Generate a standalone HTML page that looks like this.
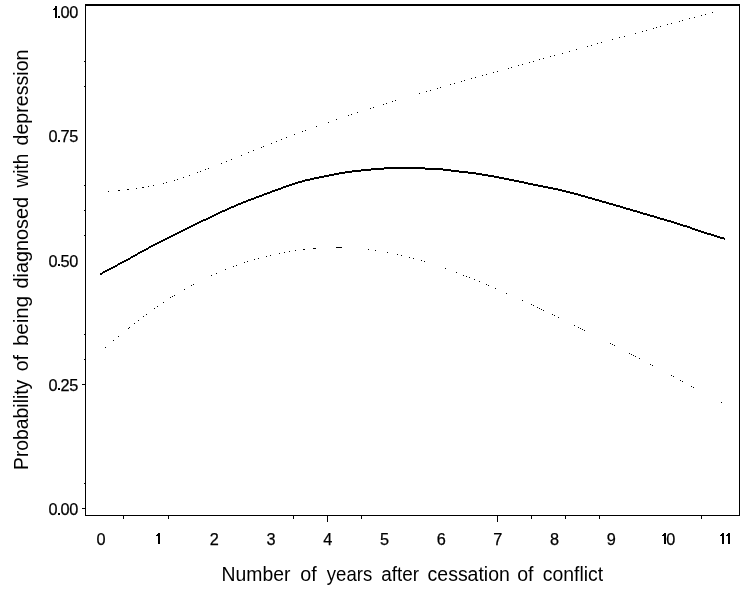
<!DOCTYPE html>
<html><head><meta charset="utf-8"><style>
html,body{margin:0;padding:0;background:#fff;width:740px;height:592px;overflow:hidden}
svg{display:block;will-change:transform}
</style></head><body><svg width="740" height="592" viewBox="0 0 740 592" font-family='"Liberation Sans", sans-serif'><rect x="0" y="0" width="740" height="592" fill="#fff"/><g shape-rendering="crispEdges" fill="#000"><rect x="85" y="4" width="655" height="2"/><rect x="85" y="4" width="1" height="512"/><rect x="739" y="4" width="1" height="512"/><rect x="85" y="515" width="655" height="1"/><rect x="84" y="61" width="1" height="1"/><rect x="84" y="86" width="1" height="1"/><rect x="84" y="185" width="1" height="1"/><rect x="84" y="210" width="1" height="1"/><rect x="84" y="235" width="1" height="1"/><rect x="84" y="334" width="1" height="1"/><rect x="84" y="359" width="1" height="1"/><rect x="84" y="483" width="1" height="1"/><rect x="82" y="384" width="3" height="1"/><rect x="82" y="508" width="3" height="1"/><rect x="123" y="516" width="1" height="3"/><rect x="168" y="516" width="1" height="3"/><rect x="293" y="516" width="1" height="3"/><rect x="361" y="516" width="1" height="3"/><rect x="531" y="516" width="1" height="3"/><rect x="565" y="516" width="1" height="3"/><rect x="599" y="516" width="1" height="3"/><rect x="701" y="516" width="1" height="3"/><rect x="327" y="516" width="1" height="6"/><rect x="497" y="516" width="1" height="6"/><rect x="108" y="191" width="1" height="1"/><rect x="118" y="190" width="1" height="1"/><rect x="119" y="190" width="1" height="1"/><rect x="127" y="189" width="1" height="1"/><rect x="128" y="189" width="1" height="1"/><rect x="136" y="188" width="1" height="1"/><rect x="142" y="187" width="1" height="1"/><rect x="143" y="187" width="1" height="1"/><rect x="148" y="186" width="1" height="1"/><rect x="153" y="185" width="1" height="1"/><rect x="163" y="183" width="1" height="1"/><rect x="166" y="182" width="1" height="1"/><rect x="174" y="180" width="1" height="1"/><rect x="177" y="179" width="1" height="1"/><rect x="183" y="177" width="1" height="1"/><rect x="189" y="175" width="1" height="1"/><rect x="197" y="172" width="1" height="1"/><rect x="200" y="171" width="1" height="1"/><rect x="205" y="169" width="1" height="1"/><rect x="208" y="168" width="1" height="1"/><rect x="221" y="163" width="1" height="1"/><rect x="226" y="161" width="1" height="1"/><rect x="231" y="159" width="1" height="1"/><rect x="241" y="155" width="1" height="1"/><rect x="248" y="152" width="1" height="1"/><rect x="253" y="150" width="1" height="1"/><rect x="261" y="147" width="1" height="1"/><rect x="263" y="146" width="1" height="1"/><rect x="271" y="143" width="1" height="1"/><rect x="276" y="141" width="1" height="1"/><rect x="281" y="139" width="1" height="1"/><rect x="286" y="137" width="1" height="1"/><rect x="294" y="134" width="1" height="1"/><rect x="302" y="131" width="1" height="1"/><rect x="305" y="130" width="1" height="1"/><rect x="316" y="126" width="1" height="1"/><rect x="328" y="122" width="1" height="1"/><rect x="336" y="119" width="1" height="1"/><rect x="348" y="115" width="1" height="1"/><rect x="351" y="114" width="1" height="1"/><rect x="357" y="112" width="1" height="1"/><rect x="370" y="108" width="1" height="1"/><rect x="373" y="107" width="1" height="1"/><rect x="383" y="104" width="1" height="1"/><rect x="386" y="103" width="1" height="1"/><rect x="392" y="101" width="1" height="1"/><rect x="395" y="100" width="1" height="1"/><rect x="419" y="93" width="1" height="1"/><rect x="426" y="91" width="1" height="1"/><rect x="430" y="90" width="1" height="1"/><rect x="437" y="88" width="1" height="1"/><rect x="440" y="87" width="1" height="1"/><rect x="450" y="84" width="1" height="1"/><rect x="454" y="83" width="1" height="1"/><rect x="461" y="81" width="1" height="1"/><rect x="464" y="80" width="1" height="1"/><rect x="471" y="78" width="1" height="1"/><rect x="475" y="77" width="1" height="1"/><rect x="482" y="75" width="1" height="1"/><rect x="486" y="74" width="1" height="1"/><rect x="493" y="72" width="1" height="1"/><rect x="497" y="71" width="1" height="1"/><rect x="508" y="68" width="1" height="1"/><rect x="511" y="67" width="1" height="1"/><rect x="518" y="65" width="1" height="1"/><rect x="522" y="64" width="1" height="1"/><rect x="529" y="62" width="1" height="1"/><rect x="533" y="61" width="1" height="1"/><rect x="539" y="59" width="1" height="1"/><rect x="543" y="58" width="1" height="1"/><rect x="550" y="56" width="1" height="1"/><rect x="554" y="55" width="1" height="1"/><rect x="562" y="53" width="1" height="1"/><rect x="569" y="51" width="1" height="1"/><rect x="576" y="49" width="1" height="1"/><rect x="587" y="46" width="1" height="1"/><rect x="591" y="45" width="1" height="1"/><rect x="597" y="43" width="1" height="1"/><rect x="601" y="42" width="1" height="1"/><rect x="612" y="39" width="1" height="1"/><rect x="619" y="37" width="1" height="1"/><rect x="624" y="36" width="1" height="1"/><rect x="635" y="33" width="1" height="1"/><rect x="642" y="31" width="1" height="1"/><rect x="646" y="30" width="1" height="1"/><rect x="653" y="28" width="1" height="1"/><rect x="656" y="27" width="1" height="1"/><rect x="660" y="26" width="1" height="1"/><rect x="667" y="24" width="1" height="1"/><rect x="671" y="23" width="1" height="1"/><rect x="679" y="21" width="1" height="1"/><rect x="682" y="20" width="1" height="1"/><rect x="689" y="18" width="1" height="1"/><rect x="694" y="17" width="1" height="1"/><rect x="701" y="15" width="1" height="1"/><rect x="705" y="14" width="1" height="1"/><rect x="712" y="12" width="1" height="1"/><rect x="105" y="347" width="1" height="1"/><rect x="113" y="340" width="1" height="1"/><rect x="118" y="336" width="1" height="1"/><rect x="128" y="328" width="1" height="1"/><rect x="129" y="327" width="1" height="1"/><rect x="134" y="323" width="1" height="1"/><rect x="138" y="320" width="1" height="1"/><rect x="143" y="316" width="1" height="1"/><rect x="146" y="314" width="1" height="1"/><rect x="154" y="308" width="1" height="1"/><rect x="157" y="306" width="1" height="1"/><rect x="163" y="302" width="1" height="1"/><rect x="170" y="297" width="1" height="1"/><rect x="172" y="296" width="1" height="1"/><rect x="174" y="295" width="1" height="1"/><rect x="184" y="289" width="1" height="1"/><rect x="191" y="285" width="1" height="1"/><rect x="193" y="284" width="1" height="1"/><rect x="211" y="275" width="1" height="1"/><rect x="216" y="273" width="1" height="1"/><rect x="225" y="269" width="1" height="1"/><rect x="233" y="266" width="1" height="1"/><rect x="236" y="265" width="1" height="1"/><rect x="244" y="262" width="1" height="1"/><rect x="247" y="261" width="1" height="1"/><rect x="254" y="259" width="1" height="1"/><rect x="258" y="258" width="1" height="1"/><rect x="266" y="256" width="1" height="1"/><rect x="270" y="255" width="1" height="1"/><rect x="279" y="253" width="1" height="1"/><rect x="284" y="252" width="1" height="1"/><rect x="289" y="251" width="1" height="1"/><rect x="295" y="250" width="1" height="1"/><rect x="303" y="249" width="1" height="1"/><rect x="304" y="249" width="1" height="1"/><rect x="313" y="248" width="1" height="1"/><rect x="314" y="248" width="1" height="1"/><rect x="315" y="248" width="1" height="1"/><rect x="336" y="247" width="1" height="1"/><rect x="337" y="247" width="1" height="1"/><rect x="338" y="247" width="1" height="1"/><rect x="339" y="247" width="1" height="1"/><rect x="340" y="247" width="1" height="1"/><rect x="341" y="247" width="1" height="1"/><rect x="368" y="249" width="1" height="1"/><rect x="375" y="250" width="1" height="1"/><rect x="387" y="252" width="1" height="1"/><rect x="397" y="254" width="1" height="1"/><rect x="401" y="255" width="1" height="1"/><rect x="409" y="257" width="1" height="1"/><rect x="413" y="258" width="1" height="1"/><rect x="421" y="260" width="1" height="1"/><rect x="424" y="261" width="1" height="1"/><rect x="445" y="268" width="1" height="1"/><rect x="456" y="272" width="1" height="1"/><rect x="463" y="275" width="1" height="1"/><rect x="466" y="276" width="1" height="1"/><rect x="469" y="277" width="1" height="1"/><rect x="474" y="279" width="1" height="1"/><rect x="479" y="281" width="1" height="1"/><rect x="486" y="284" width="1" height="1"/><rect x="488" y="285" width="1" height="1"/><rect x="495" y="288" width="1" height="1"/><rect x="506" y="293" width="1" height="1"/><rect x="522" y="300" width="1" height="1"/><rect x="531" y="304" width="1" height="1"/><rect x="533" y="305" width="1" height="1"/><rect x="537" y="307" width="1" height="1"/><rect x="539" y="308" width="1" height="1"/><rect x="541" y="309" width="1" height="1"/><rect x="543" y="310" width="1" height="1"/><rect x="552" y="314" width="1" height="1"/><rect x="554" y="315" width="1" height="1"/><rect x="558" y="317" width="1" height="1"/><rect x="574" y="325" width="1" height="1"/><rect x="578" y="327" width="1" height="1"/><rect x="580" y="328" width="1" height="1"/><rect x="582" y="329" width="1" height="1"/><rect x="584" y="330" width="1" height="1"/><rect x="610" y="343" width="1" height="1"/><rect x="612" y="344" width="1" height="1"/><rect x="614" y="345" width="1" height="1"/><rect x="629" y="353" width="1" height="1"/><rect x="631" y="354" width="1" height="1"/><rect x="633" y="355" width="1" height="1"/><rect x="635" y="356" width="1" height="1"/><rect x="639" y="358" width="1" height="1"/><rect x="650" y="364" width="1" height="1"/><rect x="652" y="365" width="1" height="1"/><rect x="671" y="375" width="1" height="1"/><rect x="673" y="376" width="1" height="1"/><rect x="680" y="380" width="1" height="1"/><rect x="682" y="381" width="1" height="1"/><rect x="691" y="386" width="1" height="1"/><rect x="693" y="387" width="1" height="1"/><rect x="721" y="402" width="1" height="1"/><rect x="55" y="6" width="2" height="12"/><rect x="53" y="9" width="2" height="1"/><rect x="54" y="8" width="1" height="1"/><rect x="58" y="16" width="2" height="2"/><rect x="58" y="140" width="2" height="2"/><rect x="58" y="264" width="2" height="2"/><rect x="58" y="388" width="2" height="2"/><rect x="58" y="513" width="2" height="2"/><rect x="158" y="533" width="2" height="11"/><rect x="156" y="535" width="2" height="1"/><rect x="157" y="534" width="1" height="1"/><rect x="664" y="533" width="2" height="11"/><rect x="662" y="535" width="2" height="1"/><rect x="663" y="534" width="1" height="1"/><rect x="722" y="533" width="2" height="11"/><rect x="720" y="535" width="2" height="1"/><rect x="721" y="534" width="1" height="1"/><rect x="728" y="533" width="2" height="11"/><rect x="726" y="535" width="2" height="1"/><rect x="727" y="534" width="1" height="1"/><rect x="100" y="273" width="1" height="2"/><rect x="101" y="273" width="1" height="2"/><rect x="102" y="272" width="1" height="2"/><rect x="103" y="271" width="1" height="2"/><rect x="104" y="271" width="1" height="2"/><rect x="105" y="270" width="1" height="2"/><rect x="106" y="270" width="1" height="2"/><rect x="107" y="269" width="1" height="2"/><rect x="108" y="269" width="1" height="2"/><rect x="109" y="268" width="1" height="2"/><rect x="110" y="268" width="1" height="2"/><rect x="111" y="267" width="1" height="2"/><rect x="112" y="267" width="1" height="2"/><rect x="113" y="266" width="1" height="2"/><rect x="114" y="266" width="1" height="2"/><rect x="115" y="265" width="1" height="2"/><rect x="116" y="265" width="1" height="2"/><rect x="117" y="264" width="1" height="2"/><rect x="118" y="263" width="1" height="2"/><rect x="119" y="263" width="1" height="2"/><rect x="120" y="262" width="1" height="2"/><rect x="121" y="262" width="1" height="2"/><rect x="122" y="261" width="1" height="2"/><rect x="123" y="261" width="1" height="2"/><rect x="124" y="260" width="1" height="2"/><rect x="125" y="260" width="1" height="2"/><rect x="126" y="259" width="1" height="2"/><rect x="127" y="259" width="1" height="2"/><rect x="128" y="258" width="1" height="2"/><rect x="129" y="258" width="1" height="2"/><rect x="130" y="257" width="1" height="2"/><rect x="131" y="256" width="1" height="2"/><rect x="132" y="256" width="1" height="2"/><rect x="133" y="255" width="1" height="2"/><rect x="134" y="255" width="1" height="2"/><rect x="135" y="254" width="1" height="2"/><rect x="136" y="254" width="1" height="2"/><rect x="137" y="253" width="1" height="2"/><rect x="138" y="252" width="1" height="2"/><rect x="139" y="252" width="1" height="2"/><rect x="140" y="251" width="1" height="2"/><rect x="141" y="251" width="1" height="2"/><rect x="142" y="250" width="1" height="2"/><rect x="143" y="250" width="1" height="2"/><rect x="144" y="249" width="1" height="2"/><rect x="145" y="249" width="1" height="2"/><rect x="146" y="248" width="1" height="2"/><rect x="147" y="248" width="1" height="2"/><rect x="148" y="247" width="1" height="2"/><rect x="149" y="246" width="1" height="2"/><rect x="150" y="246" width="1" height="2"/><rect x="151" y="245" width="1" height="2"/><rect x="152" y="245" width="1" height="2"/><rect x="153" y="244" width="1" height="2"/><rect x="154" y="244" width="1" height="2"/><rect x="155" y="243" width="1" height="2"/><rect x="156" y="243" width="1" height="2"/><rect x="157" y="242" width="1" height="2"/><rect x="158" y="242" width="1" height="2"/><rect x="159" y="241" width="1" height="2"/><rect x="160" y="241" width="1" height="2"/><rect x="161" y="240" width="1" height="2"/><rect x="162" y="240" width="1" height="2"/><rect x="163" y="239" width="1" height="2"/><rect x="164" y="239" width="1" height="2"/><rect x="165" y="238" width="1" height="2"/><rect x="166" y="238" width="1" height="2"/><rect x="167" y="237" width="1" height="2"/><rect x="168" y="237" width="1" height="2"/><rect x="169" y="236" width="1" height="2"/><rect x="170" y="236" width="1" height="2"/><rect x="171" y="235" width="1" height="2"/><rect x="172" y="235" width="1" height="2"/><rect x="173" y="234" width="1" height="2"/><rect x="174" y="234" width="1" height="2"/><rect x="175" y="233" width="1" height="2"/><rect x="176" y="233" width="1" height="2"/><rect x="177" y="232" width="1" height="2"/><rect x="178" y="232" width="1" height="2"/><rect x="179" y="231" width="1" height="2"/><rect x="180" y="231" width="1" height="2"/><rect x="181" y="230" width="1" height="2"/><rect x="182" y="230" width="1" height="2"/><rect x="183" y="229" width="1" height="2"/><rect x="184" y="229" width="1" height="2"/><rect x="185" y="228" width="1" height="2"/><rect x="186" y="228" width="1" height="2"/><rect x="187" y="227" width="1" height="2"/><rect x="188" y="227" width="1" height="2"/><rect x="189" y="226" width="1" height="2"/><rect x="190" y="226" width="1" height="2"/><rect x="191" y="225" width="1" height="2"/><rect x="192" y="225" width="1" height="2"/><rect x="193" y="224" width="1" height="2"/><rect x="194" y="224" width="1" height="2"/><rect x="195" y="223" width="1" height="2"/><rect x="196" y="223" width="1" height="2"/><rect x="197" y="222" width="1" height="2"/><rect x="198" y="222" width="1" height="2"/><rect x="199" y="221" width="1" height="2"/><rect x="200" y="221" width="1" height="2"/><rect x="201" y="220" width="1" height="2"/><rect x="202" y="220" width="1" height="2"/><rect x="203" y="219" width="1" height="2"/><rect x="204" y="219" width="1" height="2"/><rect x="205" y="219" width="1" height="2"/><rect x="206" y="218" width="1" height="2"/><rect x="207" y="218" width="1" height="2"/><rect x="208" y="217" width="1" height="2"/><rect x="209" y="217" width="1" height="2"/><rect x="210" y="216" width="1" height="2"/><rect x="211" y="216" width="1" height="2"/><rect x="212" y="215" width="1" height="2"/><rect x="213" y="215" width="1" height="2"/><rect x="214" y="214" width="1" height="2"/><rect x="215" y="214" width="1" height="2"/><rect x="216" y="213" width="1" height="2"/><rect x="217" y="213" width="1" height="2"/><rect x="218" y="212" width="1" height="2"/><rect x="219" y="212" width="1" height="2"/><rect x="220" y="211" width="1" height="2"/><rect x="221" y="211" width="1" height="2"/><rect x="222" y="210" width="1" height="2"/><rect x="223" y="210" width="1" height="2"/><rect x="224" y="210" width="1" height="2"/><rect x="225" y="209" width="1" height="2"/><rect x="226" y="209" width="1" height="2"/><rect x="227" y="208" width="1" height="2"/><rect x="228" y="208" width="1" height="2"/><rect x="229" y="207" width="1" height="2"/><rect x="230" y="207" width="1" height="2"/><rect x="231" y="206" width="1" height="2"/><rect x="232" y="206" width="1" height="2"/><rect x="233" y="206" width="1" height="2"/><rect x="234" y="205" width="1" height="2"/><rect x="235" y="205" width="1" height="2"/><rect x="236" y="204" width="1" height="2"/><rect x="237" y="204" width="1" height="2"/><rect x="238" y="203" width="1" height="2"/><rect x="239" y="203" width="1" height="2"/><rect x="240" y="203" width="1" height="2"/><rect x="241" y="202" width="1" height="2"/><rect x="242" y="202" width="1" height="2"/><rect x="243" y="201" width="1" height="2"/><rect x="244" y="201" width="1" height="2"/><rect x="245" y="201" width="1" height="2"/><rect x="246" y="200" width="1" height="2"/><rect x="247" y="200" width="1" height="2"/><rect x="248" y="199" width="1" height="2"/><rect x="249" y="199" width="1" height="2"/><rect x="250" y="199" width="1" height="2"/><rect x="251" y="198" width="1" height="2"/><rect x="252" y="198" width="1" height="2"/><rect x="253" y="198" width="1" height="2"/><rect x="254" y="197" width="1" height="2"/><rect x="255" y="197" width="1" height="2"/><rect x="256" y="196" width="1" height="2"/><rect x="257" y="196" width="1" height="2"/><rect x="258" y="196" width="1" height="2"/><rect x="259" y="195" width="1" height="2"/><rect x="260" y="195" width="1" height="2"/><rect x="261" y="195" width="1" height="2"/><rect x="262" y="194" width="1" height="2"/><rect x="263" y="194" width="1" height="2"/><rect x="264" y="193" width="1" height="2"/><rect x="265" y="193" width="1" height="2"/><rect x="266" y="193" width="1" height="2"/><rect x="267" y="192" width="1" height="2"/><rect x="268" y="192" width="1" height="2"/><rect x="269" y="192" width="1" height="2"/><rect x="270" y="191" width="1" height="2"/><rect x="271" y="191" width="1" height="2"/><rect x="272" y="190" width="1" height="2"/><rect x="273" y="190" width="1" height="2"/><rect x="274" y="190" width="1" height="2"/><rect x="275" y="189" width="1" height="2"/><rect x="276" y="189" width="1" height="2"/><rect x="277" y="189" width="1" height="2"/><rect x="278" y="188" width="1" height="2"/><rect x="279" y="188" width="1" height="2"/><rect x="280" y="188" width="1" height="2"/><rect x="281" y="187" width="1" height="2"/><rect x="282" y="187" width="1" height="2"/><rect x="283" y="186" width="1" height="2"/><rect x="284" y="186" width="1" height="2"/><rect x="285" y="186" width="1" height="2"/><rect x="286" y="185" width="1" height="2"/><rect x="287" y="185" width="1" height="2"/><rect x="288" y="185" width="1" height="2"/><rect x="289" y="184" width="1" height="2"/><rect x="290" y="184" width="1" height="2"/><rect x="291" y="184" width="1" height="2"/><rect x="292" y="183" width="1" height="2"/><rect x="293" y="183" width="1" height="2"/><rect x="294" y="183" width="1" height="2"/><rect x="295" y="182" width="1" height="2"/><rect x="296" y="182" width="1" height="2"/><rect x="297" y="182" width="1" height="2"/><rect x="298" y="181" width="1" height="2"/><rect x="299" y="181" width="1" height="2"/><rect x="300" y="181" width="1" height="2"/><rect x="301" y="181" width="1" height="2"/><rect x="302" y="180" width="1" height="2"/><rect x="303" y="180" width="1" height="2"/><rect x="304" y="180" width="1" height="2"/><rect x="305" y="179" width="1" height="2"/><rect x="306" y="179" width="1" height="2"/><rect x="307" y="179" width="1" height="2"/><rect x="308" y="179" width="1" height="2"/><rect x="309" y="179" width="1" height="2"/><rect x="310" y="178" width="1" height="2"/><rect x="311" y="178" width="1" height="2"/><rect x="312" y="178" width="1" height="2"/><rect x="313" y="178" width="1" height="2"/><rect x="314" y="177" width="1" height="2"/><rect x="315" y="177" width="1" height="2"/><rect x="316" y="177" width="1" height="2"/><rect x="317" y="177" width="1" height="2"/><rect x="318" y="177" width="1" height="2"/><rect x="319" y="176" width="1" height="2"/><rect x="320" y="176" width="1" height="2"/><rect x="321" y="176" width="1" height="2"/><rect x="322" y="176" width="1" height="2"/><rect x="323" y="176" width="1" height="2"/><rect x="324" y="175" width="1" height="2"/><rect x="325" y="175" width="1" height="2"/><rect x="326" y="175" width="1" height="2"/><rect x="327" y="175" width="1" height="2"/><rect x="328" y="175" width="1" height="2"/><rect x="329" y="174" width="1" height="2"/><rect x="330" y="174" width="1" height="2"/><rect x="331" y="174" width="1" height="2"/><rect x="332" y="174" width="1" height="2"/><rect x="333" y="174" width="1" height="2"/><rect x="334" y="173" width="1" height="2"/><rect x="335" y="173" width="1" height="2"/><rect x="336" y="173" width="1" height="2"/><rect x="337" y="173" width="1" height="2"/><rect x="338" y="173" width="1" height="2"/><rect x="339" y="172" width="1" height="2"/><rect x="340" y="172" width="1" height="2"/><rect x="341" y="172" width="1" height="2"/><rect x="342" y="172" width="1" height="2"/><rect x="343" y="172" width="1" height="2"/><rect x="344" y="172" width="1" height="2"/><rect x="345" y="171" width="1" height="2"/><rect x="346" y="171" width="1" height="2"/><rect x="347" y="171" width="1" height="2"/><rect x="348" y="171" width="1" height="2"/><rect x="349" y="171" width="1" height="2"/><rect x="350" y="171" width="1" height="2"/><rect x="351" y="171" width="1" height="2"/><rect x="352" y="170" width="1" height="2"/><rect x="353" y="170" width="1" height="2"/><rect x="354" y="170" width="1" height="2"/><rect x="355" y="170" width="1" height="2"/><rect x="356" y="170" width="1" height="2"/><rect x="357" y="170" width="1" height="2"/><rect x="358" y="170" width="1" height="2"/><rect x="359" y="170" width="1" height="2"/><rect x="360" y="170" width="1" height="2"/><rect x="361" y="169" width="1" height="2"/><rect x="362" y="169" width="1" height="2"/><rect x="363" y="169" width="1" height="2"/><rect x="364" y="169" width="1" height="2"/><rect x="365" y="169" width="1" height="2"/><rect x="366" y="169" width="1" height="2"/><rect x="367" y="169" width="1" height="2"/><rect x="368" y="169" width="1" height="2"/><rect x="369" y="169" width="1" height="2"/><rect x="370" y="169" width="1" height="2"/><rect x="371" y="168" width="1" height="2"/><rect x="372" y="168" width="1" height="2"/><rect x="373" y="168" width="1" height="2"/><rect x="374" y="168" width="1" height="2"/><rect x="375" y="168" width="1" height="2"/><rect x="376" y="168" width="1" height="2"/><rect x="377" y="168" width="1" height="2"/><rect x="378" y="168" width="1" height="2"/><rect x="379" y="168" width="1" height="2"/><rect x="380" y="168" width="1" height="2"/><rect x="381" y="168" width="1" height="2"/><rect x="382" y="168" width="1" height="2"/><rect x="383" y="168" width="1" height="2"/><rect x="384" y="167" width="1" height="2"/><rect x="385" y="167" width="1" height="2"/><rect x="386" y="167" width="1" height="2"/><rect x="387" y="167" width="1" height="2"/><rect x="388" y="167" width="1" height="2"/><rect x="389" y="167" width="1" height="2"/><rect x="390" y="167" width="1" height="2"/><rect x="391" y="167" width="1" height="2"/><rect x="392" y="167" width="1" height="2"/><rect x="393" y="167" width="1" height="2"/><rect x="394" y="167" width="1" height="2"/><rect x="395" y="167" width="1" height="2"/><rect x="396" y="167" width="1" height="2"/><rect x="397" y="167" width="1" height="2"/><rect x="398" y="167" width="1" height="2"/><rect x="399" y="167" width="1" height="2"/><rect x="400" y="167" width="1" height="2"/><rect x="401" y="167" width="1" height="2"/><rect x="402" y="167" width="1" height="2"/><rect x="403" y="167" width="1" height="2"/><rect x="404" y="167" width="1" height="2"/><rect x="405" y="167" width="1" height="2"/><rect x="406" y="167" width="1" height="2"/><rect x="407" y="167" width="1" height="2"/><rect x="408" y="167" width="1" height="2"/><rect x="409" y="167" width="1" height="2"/><rect x="410" y="167" width="1" height="2"/><rect x="411" y="167" width="1" height="2"/><rect x="412" y="167" width="1" height="2"/><rect x="413" y="167" width="1" height="2"/><rect x="414" y="167" width="1" height="2"/><rect x="415" y="167" width="1" height="2"/><rect x="416" y="167" width="1" height="2"/><rect x="417" y="167" width="1" height="2"/><rect x="418" y="167" width="1" height="2"/><rect x="419" y="167" width="1" height="2"/><rect x="420" y="167" width="1" height="2"/><rect x="421" y="167" width="1" height="2"/><rect x="422" y="167" width="1" height="2"/><rect x="423" y="167" width="1" height="2"/><rect x="424" y="167" width="1" height="2"/><rect x="425" y="168" width="1" height="2"/><rect x="426" y="168" width="1" height="2"/><rect x="427" y="168" width="1" height="2"/><rect x="428" y="168" width="1" height="2"/><rect x="429" y="168" width="1" height="2"/><rect x="430" y="168" width="1" height="2"/><rect x="431" y="168" width="1" height="2"/><rect x="432" y="168" width="1" height="2"/><rect x="433" y="168" width="1" height="2"/><rect x="434" y="168" width="1" height="2"/><rect x="435" y="168" width="1" height="2"/><rect x="436" y="168" width="1" height="2"/><rect x="437" y="168" width="1" height="2"/><rect x="438" y="168" width="1" height="2"/><rect x="439" y="168" width="1" height="2"/><rect x="440" y="168" width="1" height="2"/><rect x="441" y="168" width="1" height="2"/><rect x="442" y="168" width="1" height="2"/><rect x="443" y="169" width="1" height="2"/><rect x="444" y="169" width="1" height="2"/><rect x="445" y="169" width="1" height="2"/><rect x="446" y="169" width="1" height="2"/><rect x="447" y="169" width="1" height="2"/><rect x="448" y="169" width="1" height="2"/><rect x="449" y="169" width="1" height="2"/><rect x="450" y="169" width="1" height="2"/><rect x="451" y="170" width="1" height="2"/><rect x="452" y="170" width="1" height="2"/><rect x="453" y="170" width="1" height="2"/><rect x="454" y="170" width="1" height="2"/><rect x="455" y="170" width="1" height="2"/><rect x="456" y="170" width="1" height="2"/><rect x="457" y="170" width="1" height="2"/><rect x="458" y="170" width="1" height="2"/><rect x="459" y="171" width="1" height="2"/><rect x="460" y="171" width="1" height="2"/><rect x="461" y="171" width="1" height="2"/><rect x="462" y="171" width="1" height="2"/><rect x="463" y="171" width="1" height="2"/><rect x="464" y="171" width="1" height="2"/><rect x="465" y="171" width="1" height="2"/><rect x="466" y="171" width="1" height="2"/><rect x="467" y="171" width="1" height="2"/><rect x="468" y="172" width="1" height="2"/><rect x="469" y="172" width="1" height="2"/><rect x="470" y="172" width="1" height="2"/><rect x="471" y="172" width="1" height="2"/><rect x="472" y="172" width="1" height="2"/><rect x="473" y="172" width="1" height="2"/><rect x="474" y="172" width="1" height="2"/><rect x="475" y="172" width="1" height="2"/><rect x="476" y="173" width="1" height="2"/><rect x="477" y="173" width="1" height="2"/><rect x="478" y="173" width="1" height="2"/><rect x="479" y="173" width="1" height="2"/><rect x="480" y="173" width="1" height="2"/><rect x="481" y="173" width="1" height="2"/><rect x="482" y="174" width="1" height="2"/><rect x="483" y="174" width="1" height="2"/><rect x="484" y="174" width="1" height="2"/><rect x="485" y="174" width="1" height="2"/><rect x="486" y="174" width="1" height="2"/><rect x="487" y="174" width="1" height="2"/><rect x="488" y="175" width="1" height="2"/><rect x="489" y="175" width="1" height="2"/><rect x="490" y="175" width="1" height="2"/><rect x="491" y="175" width="1" height="2"/><rect x="492" y="175" width="1" height="2"/><rect x="493" y="175" width="1" height="2"/><rect x="494" y="176" width="1" height="2"/><rect x="495" y="176" width="1" height="2"/><rect x="496" y="176" width="1" height="2"/><rect x="497" y="176" width="1" height="2"/><rect x="498" y="176" width="1" height="2"/><rect x="499" y="177" width="1" height="2"/><rect x="500" y="177" width="1" height="2"/><rect x="501" y="177" width="1" height="2"/><rect x="502" y="177" width="1" height="2"/><rect x="503" y="177" width="1" height="2"/><rect x="504" y="178" width="1" height="2"/><rect x="505" y="178" width="1" height="2"/><rect x="506" y="178" width="1" height="2"/><rect x="507" y="178" width="1" height="2"/><rect x="508" y="178" width="1" height="2"/><rect x="509" y="179" width="1" height="2"/><rect x="510" y="179" width="1" height="2"/><rect x="511" y="179" width="1" height="2"/><rect x="512" y="179" width="1" height="2"/><rect x="513" y="179" width="1" height="2"/><rect x="514" y="180" width="1" height="2"/><rect x="515" y="180" width="1" height="2"/><rect x="516" y="180" width="1" height="2"/><rect x="517" y="180" width="1" height="2"/><rect x="518" y="180" width="1" height="2"/><rect x="519" y="181" width="1" height="2"/><rect x="520" y="181" width="1" height="2"/><rect x="521" y="181" width="1" height="2"/><rect x="522" y="181" width="1" height="2"/><rect x="523" y="181" width="1" height="2"/><rect x="524" y="182" width="1" height="2"/><rect x="525" y="182" width="1" height="2"/><rect x="526" y="182" width="1" height="2"/><rect x="527" y="182" width="1" height="2"/><rect x="528" y="183" width="1" height="2"/><rect x="529" y="183" width="1" height="2"/><rect x="530" y="183" width="1" height="2"/><rect x="531" y="183" width="1" height="2"/><rect x="532" y="183" width="1" height="2"/><rect x="533" y="184" width="1" height="2"/><rect x="534" y="184" width="1" height="2"/><rect x="535" y="184" width="1" height="2"/><rect x="536" y="184" width="1" height="2"/><rect x="537" y="184" width="1" height="2"/><rect x="538" y="185" width="1" height="2"/><rect x="539" y="185" width="1" height="2"/><rect x="540" y="185" width="1" height="2"/><rect x="541" y="185" width="1" height="2"/><rect x="542" y="185" width="1" height="2"/><rect x="543" y="186" width="1" height="2"/><rect x="544" y="186" width="1" height="2"/><rect x="545" y="186" width="1" height="2"/><rect x="546" y="186" width="1" height="2"/><rect x="547" y="186" width="1" height="2"/><rect x="548" y="187" width="1" height="2"/><rect x="549" y="187" width="1" height="2"/><rect x="550" y="187" width="1" height="2"/><rect x="551" y="187" width="1" height="2"/><rect x="552" y="187" width="1" height="2"/><rect x="553" y="188" width="1" height="2"/><rect x="554" y="188" width="1" height="2"/><rect x="555" y="188" width="1" height="2"/><rect x="556" y="188" width="1" height="2"/><rect x="557" y="188" width="1" height="2"/><rect x="558" y="189" width="1" height="2"/><rect x="559" y="189" width="1" height="2"/><rect x="560" y="189" width="1" height="2"/><rect x="561" y="189" width="1" height="2"/><rect x="562" y="190" width="1" height="2"/><rect x="563" y="190" width="1" height="2"/><rect x="564" y="190" width="1" height="2"/><rect x="565" y="190" width="1" height="2"/><rect x="566" y="191" width="1" height="2"/><rect x="567" y="191" width="1" height="2"/><rect x="568" y="191" width="1" height="2"/><rect x="569" y="191" width="1" height="2"/><rect x="570" y="192" width="1" height="2"/><rect x="571" y="192" width="1" height="2"/><rect x="572" y="192" width="1" height="2"/><rect x="573" y="192" width="1" height="2"/><rect x="574" y="193" width="1" height="2"/><rect x="575" y="193" width="1" height="2"/><rect x="576" y="193" width="1" height="2"/><rect x="577" y="193" width="1" height="2"/><rect x="578" y="194" width="1" height="2"/><rect x="579" y="194" width="1" height="2"/><rect x="580" y="194" width="1" height="2"/><rect x="581" y="195" width="1" height="2"/><rect x="582" y="195" width="1" height="2"/><rect x="583" y="195" width="1" height="2"/><rect x="584" y="195" width="1" height="2"/><rect x="585" y="196" width="1" height="2"/><rect x="586" y="196" width="1" height="2"/><rect x="587" y="196" width="1" height="2"/><rect x="588" y="197" width="1" height="2"/><rect x="589" y="197" width="1" height="2"/><rect x="590" y="197" width="1" height="2"/><rect x="591" y="197" width="1" height="2"/><rect x="592" y="198" width="1" height="2"/><rect x="593" y="198" width="1" height="2"/><rect x="594" y="198" width="1" height="2"/><rect x="595" y="199" width="1" height="2"/><rect x="596" y="199" width="1" height="2"/><rect x="597" y="199" width="1" height="2"/><rect x="598" y="199" width="1" height="2"/><rect x="599" y="200" width="1" height="2"/><rect x="600" y="200" width="1" height="2"/><rect x="601" y="200" width="1" height="2"/><rect x="602" y="201" width="1" height="2"/><rect x="603" y="201" width="1" height="2"/><rect x="604" y="201" width="1" height="2"/><rect x="605" y="201" width="1" height="2"/><rect x="606" y="202" width="1" height="2"/><rect x="607" y="202" width="1" height="2"/><rect x="608" y="202" width="1" height="2"/><rect x="609" y="203" width="1" height="2"/><rect x="610" y="203" width="1" height="2"/><rect x="611" y="203" width="1" height="2"/><rect x="612" y="203" width="1" height="2"/><rect x="613" y="204" width="1" height="2"/><rect x="614" y="204" width="1" height="2"/><rect x="615" y="204" width="1" height="2"/><rect x="616" y="205" width="1" height="2"/><rect x="617" y="205" width="1" height="2"/><rect x="618" y="205" width="1" height="2"/><rect x="619" y="205" width="1" height="2"/><rect x="620" y="206" width="1" height="2"/><rect x="621" y="206" width="1" height="2"/><rect x="622" y="206" width="1" height="2"/><rect x="623" y="207" width="1" height="2"/><rect x="624" y="207" width="1" height="2"/><rect x="625" y="207" width="1" height="2"/><rect x="626" y="208" width="1" height="2"/><rect x="627" y="208" width="1" height="2"/><rect x="628" y="208" width="1" height="2"/><rect x="629" y="208" width="1" height="2"/><rect x="630" y="209" width="1" height="2"/><rect x="631" y="209" width="1" height="2"/><rect x="632" y="209" width="1" height="2"/><rect x="633" y="210" width="1" height="2"/><rect x="634" y="210" width="1" height="2"/><rect x="635" y="210" width="1" height="2"/><rect x="636" y="210" width="1" height="2"/><rect x="637" y="211" width="1" height="2"/><rect x="638" y="211" width="1" height="2"/><rect x="639" y="211" width="1" height="2"/><rect x="640" y="212" width="1" height="2"/><rect x="641" y="212" width="1" height="2"/><rect x="642" y="212" width="1" height="2"/><rect x="643" y="213" width="1" height="2"/><rect x="644" y="213" width="1" height="2"/><rect x="645" y="213" width="1" height="2"/><rect x="646" y="213" width="1" height="2"/><rect x="647" y="214" width="1" height="2"/><rect x="648" y="214" width="1" height="2"/><rect x="649" y="214" width="1" height="2"/><rect x="650" y="215" width="1" height="2"/><rect x="651" y="215" width="1" height="2"/><rect x="652" y="215" width="1" height="2"/><rect x="653" y="215" width="1" height="2"/><rect x="654" y="216" width="1" height="2"/><rect x="655" y="216" width="1" height="2"/><rect x="656" y="216" width="1" height="2"/><rect x="657" y="217" width="1" height="2"/><rect x="658" y="217" width="1" height="2"/><rect x="659" y="217" width="1" height="2"/><rect x="660" y="218" width="1" height="2"/><rect x="661" y="218" width="1" height="2"/><rect x="662" y="218" width="1" height="2"/><rect x="663" y="218" width="1" height="2"/><rect x="664" y="219" width="1" height="2"/><rect x="665" y="219" width="1" height="2"/><rect x="666" y="219" width="1" height="2"/><rect x="667" y="220" width="1" height="2"/><rect x="668" y="220" width="1" height="2"/><rect x="669" y="220" width="1" height="2"/><rect x="670" y="220" width="1" height="2"/><rect x="671" y="221" width="1" height="2"/><rect x="672" y="221" width="1" height="2"/><rect x="673" y="221" width="1" height="2"/><rect x="674" y="222" width="1" height="2"/><rect x="675" y="222" width="1" height="2"/><rect x="676" y="222" width="1" height="2"/><rect x="677" y="223" width="1" height="2"/><rect x="678" y="223" width="1" height="2"/><rect x="679" y="223" width="1" height="2"/><rect x="680" y="224" width="1" height="2"/><rect x="681" y="224" width="1" height="2"/><rect x="682" y="224" width="1" height="2"/><rect x="683" y="225" width="1" height="2"/><rect x="684" y="225" width="1" height="2"/><rect x="685" y="225" width="1" height="2"/><rect x="686" y="225" width="1" height="2"/><rect x="687" y="226" width="1" height="2"/><rect x="688" y="226" width="1" height="2"/><rect x="689" y="226" width="1" height="2"/><rect x="690" y="227" width="1" height="2"/><rect x="691" y="227" width="1" height="2"/><rect x="692" y="228" width="1" height="2"/><rect x="693" y="228" width="1" height="2"/><rect x="694" y="228" width="1" height="2"/><rect x="695" y="229" width="1" height="2"/><rect x="696" y="229" width="1" height="2"/><rect x="697" y="229" width="1" height="2"/><rect x="698" y="230" width="1" height="2"/><rect x="699" y="230" width="1" height="2"/><rect x="700" y="230" width="1" height="2"/><rect x="701" y="231" width="1" height="2"/><rect x="702" y="231" width="1" height="2"/><rect x="703" y="231" width="1" height="2"/><rect x="704" y="232" width="1" height="2"/><rect x="705" y="232" width="1" height="2"/><rect x="706" y="232" width="1" height="2"/><rect x="707" y="233" width="1" height="2"/><rect x="708" y="233" width="1" height="2"/><rect x="709" y="233" width="1" height="2"/><rect x="710" y="233" width="1" height="2"/><rect x="711" y="234" width="1" height="2"/><rect x="712" y="234" width="1" height="2"/><rect x="713" y="234" width="1" height="2"/><rect x="714" y="235" width="1" height="2"/><rect x="715" y="235" width="1" height="2"/><rect x="716" y="235" width="1" height="2"/><rect x="717" y="236" width="1" height="2"/><rect x="718" y="236" width="1" height="2"/><rect x="719" y="236" width="1" height="2"/><rect x="720" y="237" width="1" height="2"/><rect x="721" y="237" width="1" height="2"/><rect x="722" y="237" width="1" height="2"/><rect x="723" y="237" width="1" height="2"/><rect x="724" y="238" width="1" height="2"/></g><g fill="#000"><text x="65.00" y="18.00" text-anchor="middle" font-size="16.30" stroke="#000" stroke-width="0.25">0</text><text x="73.90" y="18.00" text-anchor="middle" font-size="16.30" stroke="#000" stroke-width="0.25">0</text><text x="53.00" y="142.00" text-anchor="middle" font-size="16.30" stroke="#000" stroke-width="0.25">0</text><text x="65.00" y="142.00" text-anchor="middle" font-size="16.30" stroke="#000" stroke-width="0.25">7</text><text x="73.90" y="142.00" text-anchor="middle" font-size="16.30" stroke="#000" stroke-width="0.25">5</text><text x="53.00" y="266.55" text-anchor="middle" font-size="16.30" stroke="#000" stroke-width="0.25">0</text><text x="65.00" y="266.55" text-anchor="middle" font-size="16.30" stroke="#000" stroke-width="0.25">5</text><text x="73.90" y="266.55" text-anchor="middle" font-size="16.30" stroke="#000" stroke-width="0.25">0</text><text x="53.00" y="390.50" text-anchor="middle" font-size="16.30" stroke="#000" stroke-width="0.25">0</text><text x="65.00" y="390.50" text-anchor="middle" font-size="16.30" stroke="#000" stroke-width="0.25">2</text><text x="73.90" y="390.50" text-anchor="middle" font-size="16.30" stroke="#000" stroke-width="0.25">5</text><text x="53.00" y="515.00" text-anchor="middle" font-size="16.30" stroke="#000" stroke-width="0.25">0</text><text x="65.00" y="515.00" text-anchor="middle" font-size="16.30" stroke="#000" stroke-width="0.25">0</text><text x="73.90" y="515.00" text-anchor="middle" font-size="16.30" stroke="#000" stroke-width="0.25">0</text><text x="101.00" y="544.70" text-anchor="middle" font-size="16.30" stroke="#000" stroke-width="0.25">0</text><text x="214.40" y="544.70" text-anchor="middle" font-size="16.30" stroke="#000" stroke-width="0.25">2</text><text x="271.10" y="544.70" text-anchor="middle" font-size="16.30" stroke="#000" stroke-width="0.25">3</text><text x="327.80" y="544.70" text-anchor="middle" font-size="16.30" stroke="#000" stroke-width="0.25">4</text><text x="384.50" y="544.70" text-anchor="middle" font-size="16.30" stroke="#000" stroke-width="0.25">5</text><text x="441.20" y="544.70" text-anchor="middle" font-size="16.30" stroke="#000" stroke-width="0.25">6</text><text x="497.90" y="544.70" text-anchor="middle" font-size="16.30" stroke="#000" stroke-width="0.25">7</text><text x="554.60" y="544.70" text-anchor="middle" font-size="16.30" stroke="#000" stroke-width="0.25">8</text><text x="611.30" y="544.70" text-anchor="middle" font-size="16.30" stroke="#000" stroke-width="0.25">9</text><text x="670.70" y="544.70" text-anchor="middle" font-size="16.30" stroke="#000" stroke-width="0.25">0</text><text font-size="21" transform="translate(221.53 581) scale(0.9228 1)">Number</text><text font-size="21" transform="translate(300.35 581) scale(0.9398 1)">of</text><text font-size="21" transform="translate(326.81 581) scale(0.8849 1)">years</text><text font-size="21" transform="translate(381.19 581) scale(0.8990 1)">after</text><text font-size="21" transform="translate(427.56 581) scale(0.9282 1)">cessation</text><text font-size="21" transform="translate(517.16 581) scale(0.9337 1)">of</text><text font-size="21" transform="translate(542.77 581) scale(0.9252 1)">conflict</text><text font-size="21" transform="translate(27.8 469.97) rotate(-90) scale(0.9210 1)">Probability</text><text font-size="21" transform="translate(27.8 371.23) rotate(-90) scale(0.9277 1)">of</text><text font-size="21" transform="translate(27.8 346.07) rotate(-90) scale(0.9794 1)">being</text><text font-size="21" transform="translate(27.8 288.55) rotate(-90) scale(0.9460 1)">diagnosed</text><text font-size="21" transform="translate(27.8 187.60) rotate(-90) scale(0.9081 1)">with</text><text font-size="21" transform="translate(27.8 145.44) rotate(-90) scale(0.9343 1)">depression</text></g></svg></body></html>
